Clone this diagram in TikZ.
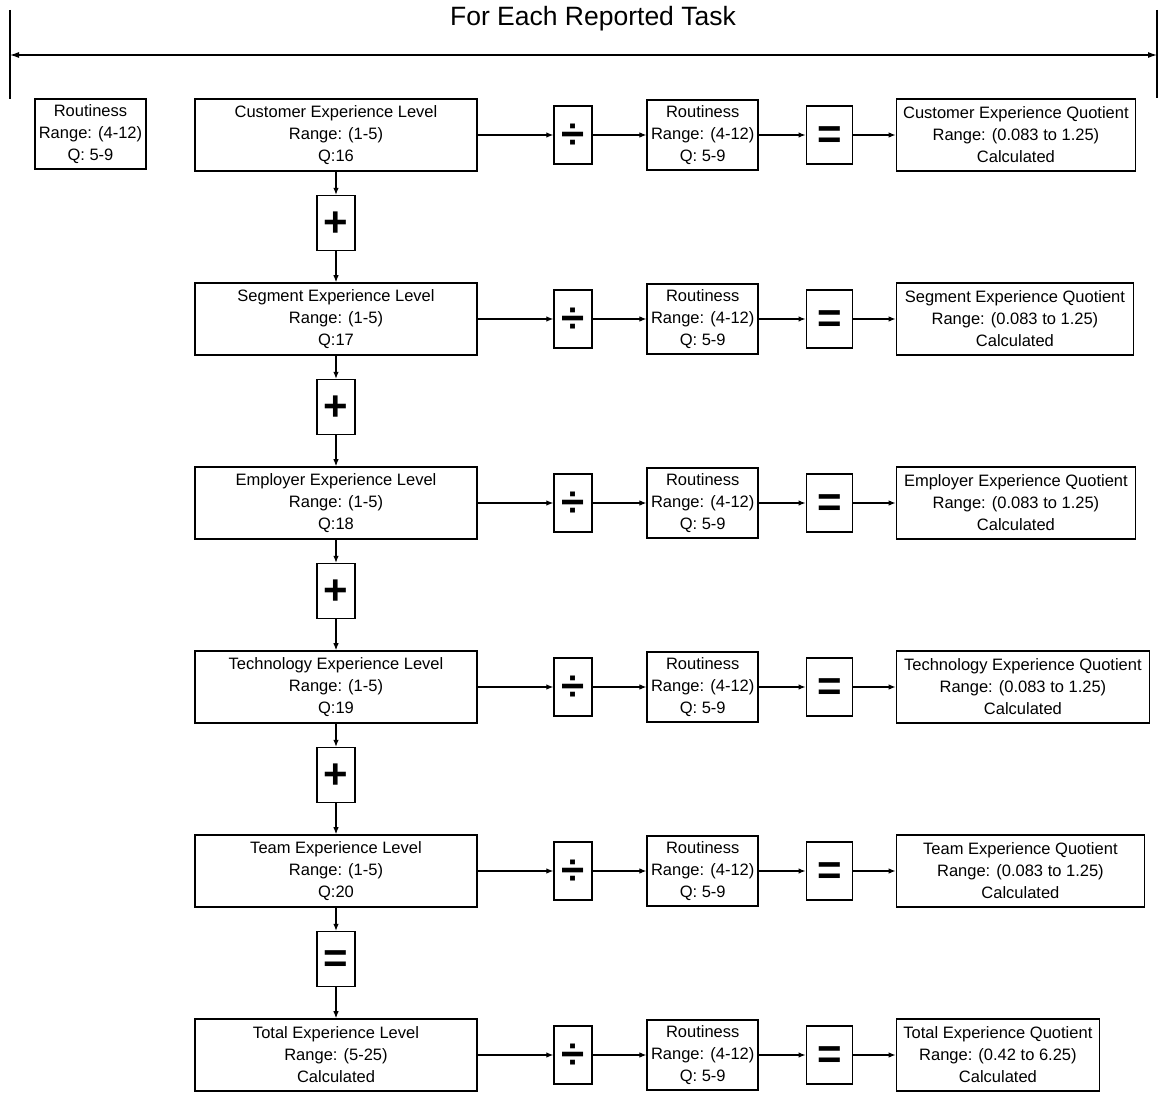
\documentclass[tikz,border=0pt]{standalone}
\usepackage{fontspec}
\setmainfont{Liberation Sans}
\usepackage{tikz}
\usetikzlibrary{arrows.meta, positioning}

\newcommand{\boxfont}{\fontsize{16.5}{22}\selectfont}
\newcommand{\opfont}{\fontsize{42}{42}\selectfont\bfseries}
\newcommand{\headfont}{\fontsize{26.5}{30}\selectfont}

\tikzset{
  % Experience level boxes (left column)
  levelbox/.style={
    rectangle, draw=black, line width=1.6pt, minimum width=282pt,
    minimum height=72pt, inner sep=2pt, align=center, font=\boxfont,
  },
  % Routiness boxes
  routbox/.style={
    rectangle, draw=black, line width=1.6pt, minimum width=111pt,
    minimum height=70pt, inner sep=2pt, align=center, font=\boxfont,
  },
  % Quotient boxes
  quotbox/.style={
    rectangle, draw=black, line width=1.6pt, minimum width=#1,
    minimum height=72pt, inner sep=2pt, align=center, font=\boxfont,
  },
  quotbox/.default={239pt},
  % Operator boxes
  opbox/.style={
    rectangle, draw=black, line width=1.6pt, minimum width=38pt,
    minimum height=55pt, inner sep=0pt, font=\opfont,
    text height=27pt, text depth=0pt,
  },
  % Arrows
  myarrow/.style={-{Latex[length=7pt, width=5.5pt]}, line width=1.1pt},
  spanarrow/.style={{Latex[length=9pt, width=6pt]}-{Latex[length=9pt, width=6pt]}, line width=1.1pt},
  spanbar/.style={line width=1.6pt},
}

\begin{document}
\begin{tikzpicture}[x=1pt, y=-1pt]
  \useasboundingbox (0,0) rectangle (1160,1094);

  % Header
  \node[font=\headfont] (title) at (593,19) {For Each Reported Task};
  \coordinate (ltop) at (10,10);
  \coordinate (lbot) at (10,99);
  \coordinate (rtop) at (1157,10);
  \coordinate (rbot) at (1157,98);
  \coordinate (lmid) at (10,55);
  \coordinate (rmid) at (1157,55);
  \draw[spanbar] (ltop) -- (lbot);
  \draw[spanbar] (rtop) -- (rbot);
  \draw[spanarrow] (lmid) -- (rmid);

  % Routiness key
  \node[routbox] (routkey) at (90.5,134) {Routiness\\Range: (4-12)\\Q: 5-9};

  % Experience levels
  \node[levelbox] (cust) at (336,135) {Customer Experience Level\\Range: (1-5)\\Q:16};
  \node[opbox, below=23pt of cust] (plusone) {+};
  \node[levelbox, below=110.4pt of cust] (seg) {Segment Experience Level\\Range: (1-5)\\Q:17};
  \node[opbox, below=23pt of seg] (plustwo) {+};
  \node[levelbox, below=110.4pt of seg] (empl) {Employer Experience Level\\Range: (1-5)\\Q:18};
  \node[opbox, below=23pt of empl] (plusthree) {+};
  \node[levelbox, below=110.4pt of empl] (tech) {Technology Experience Level\\Range: (1-5)\\Q:19};
  \node[opbox, below=23pt of tech] (plusfour) {+};
  \node[levelbox, below=110.4pt of tech] (team) {Team Experience Level\\Range: (1-5)\\Q:20};
  \node[opbox, below=23pt of team] (sumeq) {=};
  \node[levelbox, below=110.4pt of team] (total) {Total Experience Level\\Range: (5-25)\\Calculated};

  % Customer row
  \node[opbox, minimum height=58pt, right=75.5pt of cust] (custdiv) {÷};
  \node[routbox, right=53.5pt of custdiv] (custrout) {Routiness\\Range: (4-12)\\Q: 5-9};
  \node[opbox, minimum height=58pt, minimum width=46pt, right=46.5pt of custrout] (custeq) {=};
  \node[quotbox=239pt, right=42.5pt of custeq] (custquot) {Customer Experience Quotient\\Range: (0.083 to 1.25)\\Calculated};

  % Segment row
  \node[opbox, minimum height=58pt, right=75.5pt of seg] (segdiv) {÷};
  \node[routbox, right=53.5pt of segdiv] (segrout) {Routiness\\Range: (4-12)\\Q: 5-9};
  \node[opbox, minimum height=58pt, minimum width=46pt, right=46.5pt of segrout] (segeq) {=};
  \node[quotbox=237pt, right=42.5pt of segeq] (segquot) {Segment Experience Quotient\\Range: (0.083 to 1.25)\\Calculated};

  % Employer row
  \node[opbox, minimum height=58pt, right=75.5pt of empl] (empldiv) {÷};
  \node[routbox, right=53.5pt of empldiv] (emplrout) {Routiness\\Range: (4-12)\\Q: 5-9};
  \node[opbox, minimum height=58pt, minimum width=46pt, right=46.5pt of emplrout] (empleq) {=};
  \node[quotbox=239pt, right=42.5pt of empleq] (emplquot) {Employer Experience Quotient\\Range: (0.083 to 1.25)\\Calculated};

  % Technology row
  \node[opbox, minimum height=58pt, right=75.5pt of tech] (techdiv) {÷};
  \node[routbox, right=53.5pt of techdiv] (techrout) {Routiness\\Range: (4-12)\\Q: 5-9};
  \node[opbox, minimum height=58pt, minimum width=46pt, right=46.5pt of techrout] (techeq) {=};
  \node[quotbox=253pt, right=42.5pt of techeq] (techquot) {Technology Experience Quotient\\Range: (0.083 to 1.25)\\Calculated};

  % Team row
  \node[opbox, minimum height=58pt, right=75.5pt of team] (teamdiv) {÷};
  \node[routbox, right=53.5pt of teamdiv] (teamrout) {Routiness\\Range: (4-12)\\Q: 5-9};
  \node[opbox, minimum height=58pt, minimum width=46pt, right=46.5pt of teamrout] (teameq) {=};
  \node[quotbox=248pt, right=42.5pt of teameq] (teamquot) {Team Experience Quotient\\Range: (0.083 to 1.25)\\Calculated};

  % Total row
  \node[opbox, minimum height=58pt, right=75.5pt of total] (totaldiv) {÷};
  \node[routbox, right=53.5pt of totaldiv] (totalrout) {Routiness\\Range: (4-12)\\Q: 5-9};
  \node[opbox, minimum height=58pt, minimum width=46pt, right=46.5pt of totalrout] (totaleq) {=};
  \node[quotbox=203pt, right=42.5pt of totaleq] (totalquot) {Total Experience Quotient\\Range: (0.42 to 6.25)\\Calculated};

  % Arrows down the left column
  \draw[myarrow] (cust) -- (plusone);
  \draw[myarrow] (plusone) -- (seg);
  \draw[myarrow] (seg) -- (plustwo);
  \draw[myarrow] (plustwo) -- (empl);
  \draw[myarrow] (empl) -- (plusthree);
  \draw[myarrow] (plusthree) -- (tech);
  \draw[myarrow] (tech) -- (plusfour);
  \draw[myarrow] (plusfour) -- (team);
  \draw[myarrow] (team) -- (sumeq);
  \draw[myarrow] (sumeq) -- (total);

  % Arrows along the rows
  \draw[myarrow] (cust) -- (custdiv);
  \draw[myarrow] (custdiv) -- (custrout);
  \draw[myarrow] (custrout) -- (custeq);
  \draw[myarrow] (custeq) -- (custquot);
  \draw[myarrow] (seg) -- (segdiv);
  \draw[myarrow] (segdiv) -- (segrout);
  \draw[myarrow] (segrout) -- (segeq);
  \draw[myarrow] (segeq) -- (segquot);
  \draw[myarrow] (empl) -- (empldiv);
  \draw[myarrow] (empldiv) -- (emplrout);
  \draw[myarrow] (emplrout) -- (empleq);
  \draw[myarrow] (empleq) -- (emplquot);
  \draw[myarrow] (tech) -- (techdiv);
  \draw[myarrow] (techdiv) -- (techrout);
  \draw[myarrow] (techrout) -- (techeq);
  \draw[myarrow] (techeq) -- (techquot);
  \draw[myarrow] (team) -- (teamdiv);
  \draw[myarrow] (teamdiv) -- (teamrout);
  \draw[myarrow] (teamrout) -- (teameq);
  \draw[myarrow] (teameq) -- (teamquot);
  \draw[myarrow] (total) -- (totaldiv);
  \draw[myarrow] (totaldiv) -- (totalrout);
  \draw[myarrow] (totalrout) -- (totaleq);
  \draw[myarrow] (totaleq) -- (totalquot);

\end{tikzpicture}
\end{document}
